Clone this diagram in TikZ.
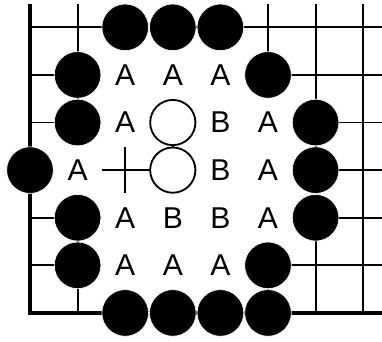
\documentclass[tikz,border=0pt]{standalone}
\usepackage{fontspec}
\setmainfont{Liberation Sans}
\begin{document}
\begin{tikzpicture}[x=1cm,y=-1cm,gridline/.style={line width=1.1pt},boardedge/.style={line width=2.6pt},blackstone/.style={circle,fill=black,draw=white,line width=0.4pt,minimum size=0.98cm,inner sep=0pt},whitestone/.style={circle,fill=white,draw=black,line width=1.1pt,minimum size=0.95cm,inner sep=0pt},pointlabel/.style={fill=white,minimum size=1.04cm,inner sep=0pt,font=\fontsize{18}{21}\selectfont}]
\fill[white] (-0.63,-0.574) rectangle (7.395,6.61);
\useasboundingbox (-0.63,-0.574) rectangle (7.395,6.61);
% board lines
\draw[gridline] (1,-0.49)--(1,6) (2,-0.49)--(2,6) (3,-0.49)--(3,6) (4,-0.49)--(4,6) (5,-0.49)--(5,6) (6,-0.49)--(6,6) (7,-0.49)--(7,6);
\draw[gridline] (0,0)--(7.4,0) (0,1)--(7.4,1) (0,2)--(7.4,2) (0,3)--(7.4,3) (0,4)--(7.4,4) (0,5)--(7.4,5);
\draw[boardedge] (0,-0.49)--(0,6)--(7.4,6);
% labels
\node[pointlabel] (a1) at (2,1){A};\node[pointlabel] (a2) at (3,1){A};\node[pointlabel] (a3) at (4,1){A};
\node[pointlabel] (a4) at (2,2){A};\node[pointlabel] (b1) at (4,2){B};\node[pointlabel] (a5) at (5,2){A};
\node[pointlabel] (a6) at (1,3){A};\node[pointlabel] (b2) at (4,3){B};\node[pointlabel] (a7) at (5,3){A};
\node[pointlabel] (a8) at (2,4){A};\node[pointlabel] (b3) at (3,4){B};\node[pointlabel] (b4) at (4,4){B};\node[pointlabel] (a9) at (5,4){A};
\node[pointlabel] (a10) at (2,5){A};\node[pointlabel] (a11) at (3,5){A};\node[pointlabel] (a12) at (4,5){A};
% white stones
\node[whitestone] (w1) at (3,2){};\node[whitestone] (w2) at (3,3){};
% black stones
\node[blackstone] (k1) at (2,0){};\node[blackstone] (k2) at (3,0){};\node[blackstone] (k3) at (4,0){};
\node[blackstone] (k4) at (1,1){};\node[blackstone] (k5) at (5,1){};
\node[blackstone] (k6) at (1,2){};\node[blackstone] (k7) at (6,2){};
\node[blackstone] (k8) at (0,3){};\node[blackstone] (k9) at (6,3){};
\node[blackstone] (k10) at (1,4){};\node[blackstone] (k11) at (6,4){};
\node[blackstone] (k12) at (1,5){};\node[blackstone] (k13) at (5,5){};
\node[blackstone] (k14) at (2,6){};\node[blackstone] (k15) at (3,6){};\node[blackstone] (k16) at (4,6){};\node[blackstone] (k17) at (5,6){};
\end{tikzpicture}
\end{document}
